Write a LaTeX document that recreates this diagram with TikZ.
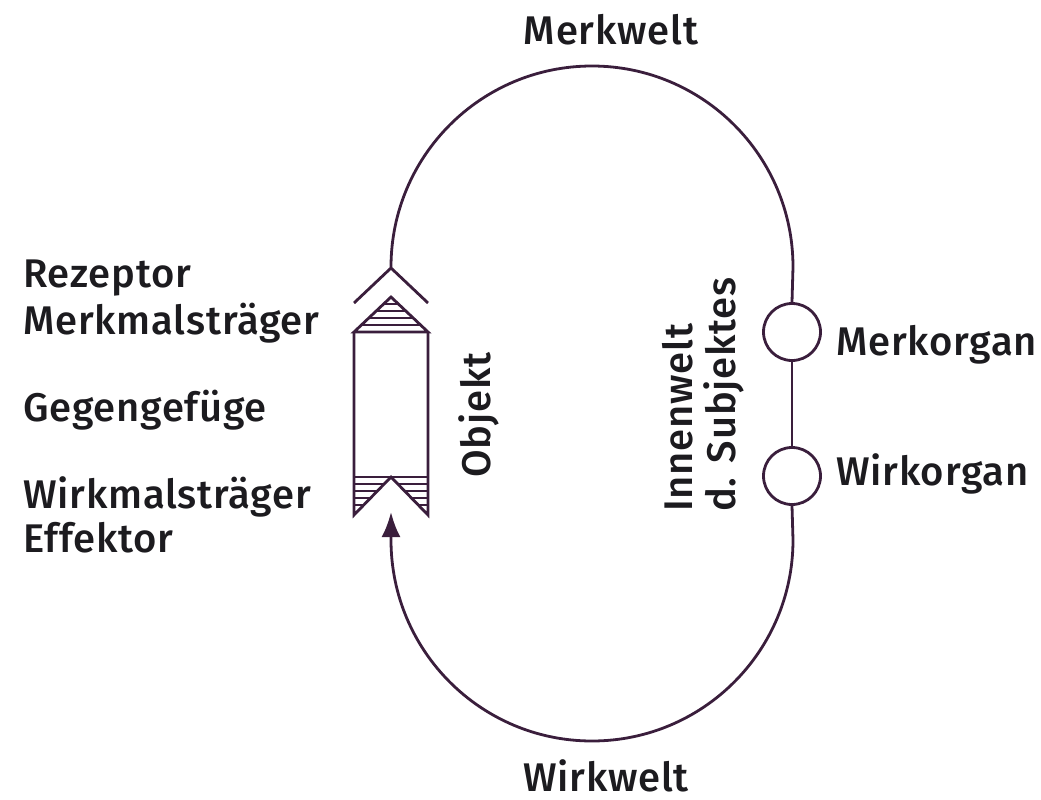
\documentclass[tikz,border=0pt]{standalone}
\usepackage{fontspec}
\setmainfont{Fira Sans}[BoldFont={Fira Sans Medium}, BoldFeatures={LetterSpace=2}]
\usetikzlibrary{arrows.meta}
\definecolor{linec}{HTML}{3A1E3C}
\definecolor{textc}{HTML}{1C1B1F}
\tikzset{
  ln/.style={draw=linec, line width=2.8pt},
  hatch/.style={draw=linec, line width=2.3pt},
  lbl/.style={text=textc, inner sep=0pt, font=\fontsize{40}{46}\selectfont\bfseries},
  organ/.style={circle, draw=linec, line width=2.8pt, minimum size=57pt, inner sep=0pt},
  headtip/.style={-{Latex[length=25pt,width=19pt,inset=4pt]}}
}
\begin{document}
\begin{tikzpicture}[x=1pt,y=-1pt]
\useasboundingbox (0,0) rectangle (1041,800);
% nodes
\node[organ] (merk) at (792,332) {};
\node[organ] (wirk) at (792,476) {};
\coordinate (stem) at (391,267);
\coordinate (rcpt) at (391,268);
\coordinate (tip) at (391,512);
% loop
\draw[ln] (stem) arc[start angle=180, end angle=360, radius=201] -- (merk.north);
\draw[ln] (merk.south) -- (wirk.north);
\draw[ln, headtip] (wirk.south) -- (793,540) arc[start angle=0, end angle=180, radius=201] -- (tip);
% receptor chevron
\draw[ln] (354,303) -- (rcpt) -- (428,303);
% object body
\draw[ln, line join=miter] (354,332) -- (391,297) -- (428,332) -- cycle;
\draw[ln] (354,332) -- (354,515) -- (391,477) -- (428,515) -- (428,332);
\draw[ln] (354,477) -- (428,477);
% top hatch
\foreach \yy in {304,311,318,325}{
  \pgfmathsetmacro{\hw}{(\yy-297)*37/35}
  \draw[hatch] ({391-\hw},\yy) -- ({391+\hw},\yy);
}
% bottom hatch
\foreach \yy in {484,491,498,505}{
  \pgfmathsetmacro{\hw}{(\yy-477)*37/38}
  \draw[hatch] (354,\yy) -- ({391-\hw},\yy);
  \draw[hatch] ({391+\hw},\yy) -- (428,\yy);
}
% labels
\node[lbl, anchor=base] (merkwelt) at (611,45) {Merkwelt};
\node[lbl, anchor=base] (wirkwelt) at (606,791) {Wirkwelt};
\node[lbl, anchor=base west] (rez) at (23,287) {Rezeptor};
\node[lbl, anchor=base west] (mmt) at (23,334) {Merkmalsträger};
\node[lbl, anchor=base west] (geg) at (23,421) {Gegengefüge};
\node[lbl, anchor=base west] (wmt) at (23,508) {Wirkmalsträger};
\node[lbl, anchor=base west] (eff) at (23,552) {Effektor};
\node[lbl, anchor=base west] (mo) at (836,355) {Merkorgan};
\node[lbl, anchor=base west] (wo) at (836,485) {Wirkorgan};
\node[lbl, anchor=base, rotate=90] (obj) at (490,415) {Objekt};
\node[lbl, anchor=base west, rotate=90] (inn) at (692,512) {Innenwelt};
\node[lbl, anchor=base west, rotate=90] (subj) at (735,512) {d. Subjektes};
\end{tikzpicture}
\end{document}
